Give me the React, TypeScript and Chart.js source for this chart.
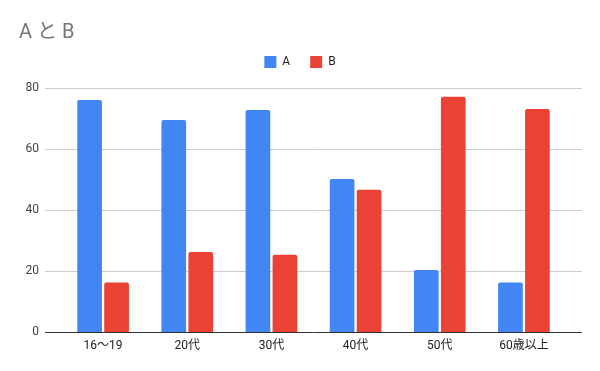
import React, { useEffect, useRef } from "react";
import { Chart, registerables } from "chart.js";

Chart.register(...registerables);

const title = "A と B";
const categories = ["16〜19", "20代", "30代", "40代", "50代", "60歳以上"];
const seriesA = [76.1, 69.5, 72.8, 50.2, 20.3, 16.2];
const seriesB = [16.2, 26.2, 25.3, 46.6, 77.1, 73.1];
const seriesNames = ["A", "B"];
const yTicks = [0, 20, 40, 60, 80];

const FONT = "Roboto, 'Noto Sans CJK JP', sans-serif";

const legendSpacer = {
  id: "legendSpacer",
  beforeInit(chart: any) {
    const orig = chart.legend.fit;
    chart.legend.fit = function () {
      orig.bind(chart.legend)();
      this.height += 10;
    };
  },
};

const customDraw = {
  id: "customDraw",
  beforeDatasetsDraw(chart: any) {
    const { ctx } = chart;
    const y = chart.scales.y;
    ctx.save();
    ctx.strokeStyle = "#cccccc";
    ctx.lineWidth = 1;
    yTicks.slice(1).forEach((v) => {
      const py = Math.round(y.getPixelForValue(v)) + 0.5;
      ctx.beginPath();
      ctx.moveTo(45, py);
      ctx.lineTo(582, py);
      ctx.stroke();
    });
    ctx.restore();
  },
  afterDatasetsDraw(chart: any) {
    const { ctx } = chart;
    const y = chart.scales.y;
    ctx.save();
    ctx.strokeStyle = "#333333";
    ctx.lineWidth = 1;
    const py = Math.round(y.getPixelForValue(0)) + 0.5;
    ctx.beginPath();
    ctx.moveTo(45, py);
    ctx.lineTo(582, py);
    ctx.stroke();
    ctx.restore();
  },
  afterDraw(chart: any) {
    const { ctx } = chart;
    ctx.save();
    ctx.fillStyle = "#757575";
    ctx.font = `20px ${FONT}`;
    ctx.textAlign = "left";
    ctx.textBaseline = "alphabetic";
    ctx.fillText(title, 19, 38);
    ctx.restore();
  },
};

export default function App() {
  const ref = useRef<HTMLCanvasElement>(null);
  useEffect(() => {
    document.body.style.margin = "0";
    const chart = new Chart(ref.current!, {
      type: "bar",
      data: {
        labels: categories,
        datasets: [
          {
            label: seriesNames[0],
            data: seriesA,
            backgroundColor: "#4285F4",
            borderRadius: { topLeft: 2, topRight: 2, bottomLeft: 0, bottomRight: 0 },
            borderSkipped: false,
            barPercentage: 0.915,
            categoryPercentage: 0.641,
          },
          {
            label: seriesNames[1],
            data: seriesB,
            backgroundColor: "#EA4335",
            borderRadius: { topLeft: 2, topRight: 2, bottomLeft: 0, bottomRight: 0 },
            borderSkipped: false,
            barPercentage: 0.915,
            categoryPercentage: 0.641,
          },
        ],
      },
      options: {
        responsive: false,
        animation: false,
        layout: { padding: { top: 36, left: 0, right: 0, bottom: 0 } },
        plugins: {
          title: { display: false },
          tooltip: { enabled: false },
          legend: {
            display: true,
            position: "top",
            align: "center",
            labels: {
              boxWidth: 12,
              boxHeight: 12,
              padding: 20,
              color: "#222222",
              font: { size: 12, family: FONT },
            },
          },
        },
        scales: {
          x: {
            grid: { display: false, drawTicks: false },
            border: { display: false },
            ticks: {
              color: "#222222",
              font: { size: 12, family: FONT },
              padding: 7,
              maxRotation: 0,
              autoSkip: false,
            },
            afterFit: (s: any) => {
              s.height = 39;
            },
          },
          y: {
            position: "left",
            min: 0,
            max: 80,
            grid: { display: false, drawTicks: false },
            border: { display: false },
            ticks: {
              stepSize: 20,
              color: "#444444",
              font: { size: 12, family: FONT },
              padding: 22,
            },
            afterFit: (s: any) => {
              s.width = 61;
            },
          },
          yRight: {
            position: "right",
            display: true,
            grid: { display: false, drawTicks: false },
            border: { display: false },
            ticks: { display: false },
            afterFit: (s: any) => {
              s.width = 34;
            },
          },
        },
      },
      plugins: [legendSpacer, customDraw],
    });
    return () => chart.destroy();
  }, []);
  return (
    <div style={{ width: 600, height: 371 }}>
      <canvas ref={ref} width={600} height={371} />
    </div>
  );
}
